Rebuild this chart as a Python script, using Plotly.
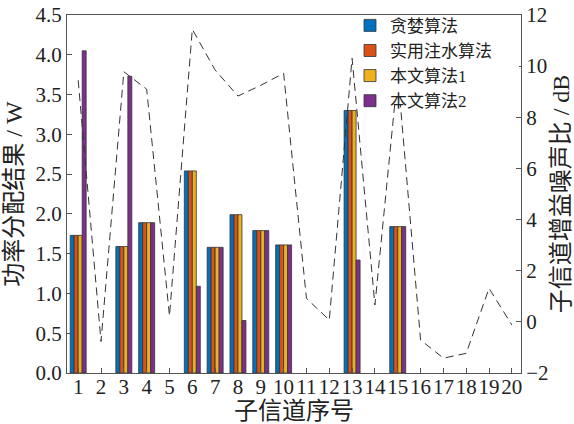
import plotly.graph_objects as go

channels = list(range(1, 21))
greedy = [1.73, 0, 1.59, 1.89, 0, 2.54, 1.58, 1.99, 1.79, 1.61, 0, 0, 3.30, 0, 1.84, 0, 0, 0, 0, 0]
waterfill = [1.73, 0, 1.59, 1.89, 0, 2.54, 1.58, 1.99, 1.79, 1.61, 0, 0, 3.30, 0, 1.84, 0, 0, 0, 0, 0]
alg1 = [1.73, 0, 1.59, 1.89, 0, 2.54, 1.58, 1.99, 1.79, 1.61, 0, 0, 3.30, 0, 1.84, 0, 0, 0, 0, 0]
alg2 = [4.05, 0, 3.73, 1.89, 0, 1.09, 1.58, 0.66, 1.79, 1.61, 0, 0, 1.42, 0, 1.84, 0, 0, 0, 0, 0]
snr_db = [9.45, -0.77, 9.78, 9.10, 0.23, 11.44, 9.85, 8.83, 9.25, 9.72,
          0.92, 0.07, 10.31, 0.66, 9.7, -0.71, -1.42, -1.23, 1.31, -0.12]

names = ["贪婪算法", "实用注水算法", "本文算法1", "本文算法2"]
colors = ["#0072BD", "#D95319", "#EDB120", "#7E2F8E"]
series = [greedy, waterfill, alg1, alg2]

FONT = "'Liberation Serif', 'Noto Sans CJK SC', serif"
AX = "#555555"
TICKFONT = dict(family="'Liberation Serif', serif", size=21, color="#222222")

fig = go.Figure()
for n, c, s in zip(names, colors, series):
    fig.add_trace(go.Bar(x=channels, y=[v if v else None for v in s], name=n,
                         marker=dict(color=c, line=dict(color="#333333", width=0.8)), yaxis="y"))
fig.add_trace(go.Scatter(x=channels, y=snr_db, mode="lines", yaxis="y2", showlegend=False,
                         line=dict(color="#333333", width=1, dash="8px,5px")))

# white backing behind the legend (hides the dashed line there, as in the original)
fig.add_shape(type="rect", xref="paper", yref="paper", layer="above",
              x0=(362 - 67) / 454, x1=(519 - 67) / 454, y0=(373 - 104) / 358, y1=(373 - 17) / 358,
              fillcolor="white", line=dict(width=0))

fig.update_layout(
    width=574, height=424,
    margin=dict(l=67, r=53, t=15, b=51, autoexpand=False),
    paper_bgcolor="white", plot_bgcolor="white",
    font=dict(family=FONT, size=20, color="#222222"),
    barmode="group", bargap=0.3, bargroupgap=0,
    showlegend=True,
    legend=dict(x=(350 - 67) / 454, y=1.02, xanchor="left", yanchor="top", bgcolor="rgba(0,0,0,0)",
                borderwidth=0, font=dict(size=17), tracegroupgap=0),
    xaxis=dict(range=[0.51, 20.40], tickvals=channels, ticktext=[str(c) for c in channels],
               tickfont=TICKFONT, tickangle=0, ticklabelstandoff=-5,
               ticks="inside", ticklen=5, tickcolor=AX, showline=True, linecolor=AX, linewidth=1,
               mirror=True, showgrid=False, zeroline=False, automargin=False,
               title=dict(text="子信道序号", standoff=2)),
    yaxis=dict(range=[0, 4.5], dtick=0.5, tickformat=".1f", ticks="inside", ticklen=5, tickcolor=AX,
               tickfont=TICKFONT,
               showline=True, linecolor=AX, linewidth=1, showgrid=False, zeroline=False, automargin=False,
               title=dict(text="功率分配结果 / W", standoff=6)),
    yaxis2=dict(range=[-2, 12], dtick=2, overlaying="y", side="right", ticks="inside", ticklen=5,
                tickfont=TICKFONT,
                tickcolor=AX, showline=True, linecolor=AX, linewidth=1, showgrid=False, zeroline=False,
                automargin=False, title=dict(text="子信道增益噪声比 / dB", standoff=4)),
)

fig.write_html("out.html")
